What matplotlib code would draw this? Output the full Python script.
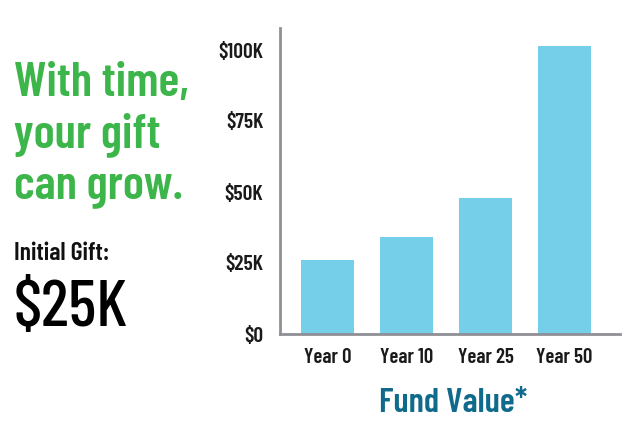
import matplotlib
matplotlib.use("Agg")
import matplotlib.pyplot as plt

years = ["Year 0", "Year 10", "Year 25", "Year 50"]
fund_values = [26000, 34000, 48000, 101500]
tick_values = [0, 25000, 50000, 75000, 100000]
tick_labels = ["$0", "$25K", "$50K", "$75K", "$100K"]

# condensed face closest to the original, plain Roboto if it is missing
plt.rcParams['font.family'] = ['Barlow Condensed', 'Roboto', 'DejaVu Sans']

W, H = 640, 441
fig = plt.figure(figsize=(W / 100, H / 100), dpi=100)
ax = fig.add_axes([280 / W, 1 - 334 / H, 340 / W, 306 / H])

ax.bar(range(4), fund_values, width=0.675, color="#76cfe9")
ax.set_xlim(-0.6, 3.7)
ax.set_ylim(0, 306 / 284 * 100000)
ax.set_xticks(range(4), years, fontsize=15, fontweight="semibold", color="#1a1a1a")
ax.set_yticks(tick_values, tick_labels, fontsize=15.5, fontweight="semibold", color="#1a1a1a")
ax.tick_params(axis="x", length=0, pad=10)
ax.tick_params(axis="y", length=0, pad=12)
for side in ["top", "right"]:
    ax.spines[side].set_visible(False)
for side in ["left", "bottom"]:
    ax.spines[side].set_color("#8f8f96")
    ax.spines[side].set_linewidth(2)

fig.text(14 / W, 1 - 62 / H, "With time,\nyour gift\ncan grow.", color="#3cb54a", fontsize=35,
         fontweight="semibold", va="top", linespacing=1.21)
fig.text(14 / W, 1 - 254 / H, "Initial Gift:", color="#111111", fontsize=18.5, fontweight="semibold", va="center")
fig.text(14 / W, 1 - 310 / H, "$25K", color="black", fontsize=47.5, fontweight="medium", va="center")
fig.text(453 / W, 1 - 403 / H, "Fund Value*", color="#0f6a8b", fontsize=25, fontweight="semibold", ha="center", va="center")

fig.savefig("out.png", dpi=100)
